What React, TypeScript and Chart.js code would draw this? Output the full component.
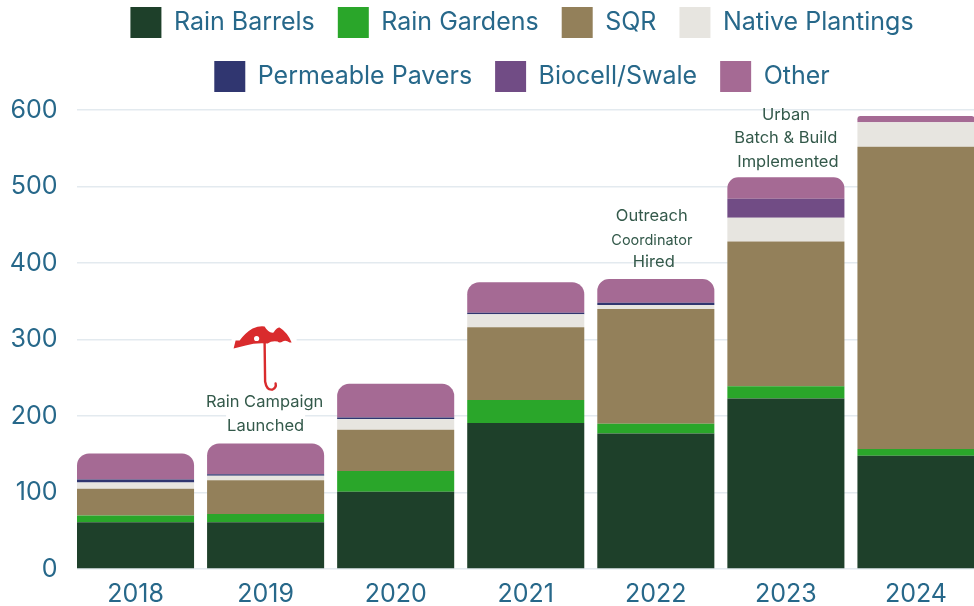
import React, { useEffect, useRef } from "react";
import { Chart, registerables } from "chart.js";

Chart.register(...registerables);

const years = ["2018", "2019", "2020", "2021", "2022", "2023", "2024"];
const rainBarrels = [61, 61, 101, 191, 177, 223, 148];
const rainGardens = [9, 11, 27, 30, 13, 16, 9];
const sqr = [35, 44, 54, 95, 150, 189, 395];
const nativePlantings = [8, 6, 14, 17, 5, 31, 32];
const permeablePavers = [4, 2, 2, 2, 3, 0, 0];
const biocellSwale = [0, 0, 0, 0, 0, 25, 0];
const other = [34, 40, 44, 40, 31, 28, 8];

const notes = [
  { year: "2019", value: 218.5, text: "Rain Campaign", size: 16.5, dx: -1, knock: true },
  { year: "2019", value: 187, text: "Launched", size: 16.5, dx: 0, knock: true },
  { year: "2022", value: 461, text: "Outreach", size: 16.5, dx: -4, knock: false },
  { year: "2022", value: 429, text: "Coordinator", size: 14.5, dx: -4, knock: false },
  { year: "2022", value: 401, text: "Hired", size: 16.5, dx: -2, knock: false },
  { year: "2023", value: 594, text: "Urban", size: 16.5, dx: 0, knock: false },
  { year: "2023", value: 563, text: "Batch & Build", size: 16.5, dx: 0, knock: false },
  { year: "2023", value: 532, text: "Implemented", size: 16.5, dx: 2, knock: false },
];

const TICK = "#27688a";
const NOTE = "#33594a";

const overlay = {
  id: "overlay",
  beforeLayout(chart: any) {
    // keep extra room between the legend and the plot
    const l = chart.legend;
    if (l && !l.__roomy) {
      const fit = l.fit.bind(l);
      l.fit = () => { fit(); l.height += 8; };
      l.__roomy = true;
    }
  },
  beforeDatasetsDraw(chart: any) {
    // gridlines begin at the first bar's left edge
    const { ctx, chartArea } = chart;
    const bar = chart.getDatasetMeta(0).data[0];
    ctx.save();
    ctx.fillStyle = "#fff";
    ctx.fillRect(chartArea.left - 2, chartArea.top - 3, bar.x - bar.width / 2 - chartArea.left + 2, chartArea.height + 6);
    ctx.restore();
  },
  afterDatasetsDraw(chart: any) {
    const { ctx, scales } = chart;
    const x = scales.x;
    const y = scales.y;
    ctx.save();
    ctx.letterSpacing = "0px";
    ctx.textAlign = "center";
    ctx.textBaseline = "middle";
    for (const n of notes) {
      const px = x.getPixelForValue(years.indexOf(n.year)) + n.dx;
      const py = y.getPixelForValue(n.value);
      ctx.font = `${n.size}px Inter, sans-serif`;
      if (n.knock) {
        const w = ctx.measureText(n.text).width;
        ctx.fillStyle = "#fff";
        ctx.fillRect(px - w / 2 - 1, py - 11, w + 2, 22);
      }
      ctx.fillStyle = NOTE;
      ctx.fillText(n.text, px, py);
    }
    // umbrella above the 2019 note, anchored on its category and the 300 gridline
    const ux = x.getPixelForValue(1) - 2;
    const uy = y.getPixelForValue(300);
    ctx.translate(ux, uy);
    ctx.fillStyle = "#fff";
    ctx.fillRect(-32, -8, 65, 16);
    ctx.fillStyle = "#d92b2d";
    ctx.strokeStyle = "#d92b2d";
    ctx.beginPath();
    ctx.moveTo(-30, 9);
    ctx.lineTo(-28, 1);
    ctx.lineTo(-24, 1);
    ctx.quadraticCurveTo(-18, -7, -11, -11);
    ctx.quadraticCurveTo(-4, -14, 1, -13);
    ctx.quadraticCurveTo(5, -6, 10, -7);
    ctx.quadraticCurveTo(13, -12, 16, -12);
    ctx.quadraticCurveTo(24, -7, 28, 3);
    ctx.lineTo(26, 3);
    ctx.quadraticCurveTo(22, 0, 19, 2);
    ctx.quadraticCurveTo(16, 4, 14, 2);
    ctx.quadraticCurveTo(8, 1, 4, 4);
    ctx.quadraticCurveTo(-8, 3, -18, 6);
    ctx.closePath();
    ctx.fill();
    ctx.fillStyle = "#fff";
    ctx.beginPath();
    ctx.arc(-7, -1, 2.6, 0, Math.PI * 2);
    ctx.fill();
    ctx.lineWidth = 2.4;
    ctx.lineCap = "round";
    ctx.beginPath();
    ctx.moveTo(1, 3);
    ctx.lineTo(1.5, 42);
    ctx.quadraticCurveTo(3, 51, 9, 50);
    ctx.quadraticCurveTo(13, 48, 12, 44);
    ctx.stroke();
    ctx.restore();
  },
};

export default function App() {
  const ref = useRef<HTMLCanvasElement>(null);
  useEffect(() => {
    const canvas = ref.current!;
    const g: any = canvas.getContext("2d");
    g.letterSpacing = "0.8px";
    const bar = (label: string, data: number[], color: string, extra: object = {}) => ({
      label,
      data,
      backgroundColor: color,
      borderWidth: 0,
      borderColor: color,
      ...extra,
    });
    const chart = new Chart(canvas, {
      type: "bar",
      data: {
        labels: years,
        datasets: [
          bar("Rain Barrels", rainBarrels, "#1e402a"),
          bar("Rain Gardens", rainGardens, "#2aa62a"),
          bar("SQR", sqr, "#93805a"),
          bar("Native Plantings", nativePlantings, "#e7e5e0"),
          bar("Permeable Pavers", permeablePavers, "#303670"),
          bar("Biocell/Swale", biocellSwale, "#714c85"),
          bar("Other", other, "#a56a94", {
            borderRadius: { topLeft: 12, topRight: 12, bottomLeft: 0, bottomRight: 0 },
            borderSkipped: false,
          }),
        ],
      },
      options: {
        animation: false,
        responsive: false,
        devicePixelRatio: 1,
        layout: { padding: 0 },
        plugins: {
          tooltip: { enabled: false },
          legend: {
            position: "top",
            labels: {
              color: TICK,
              font: { family: "Inter, sans-serif", size: 25 },
              boxWidth: 31,
              boxHeight: 31,
              padding: 23,
            },
          },
        },
        scales: {
          x: {
            stacked: true,
            grid: { display: false },
            border: { display: false },
            ticks: { color: TICK, font: { family: "Inter, sans-serif", size: 25 }, padding: 2 },
            afterFit: (s: any) => { s.height = 37; },
          },
          y: {
            stacked: true,
            min: 0,
            max: 600,
            grid: { color: "#e3eaef", lineWidth: 1.5, drawTicks: false },
            border: { display: false },
            ticks: { color: TICK, font: { family: "Inter, sans-serif", size: 25 }, stepSize: 100, padding: 13 },
            afterFit: (s: any) => { s.width = 70.5; },
          },
          // an empty axis past the page edge: it narrows the plot but leaves the legend centred
          pad: {
            type: "linear",
            position: "right",
            grid: { display: false },
            border: { display: false },
            ticks: { display: false },
            afterFit: (s: any) => { s.width = 63; },
          },
        } as any,
        datasets: { bar: { categoryPercentage: 0.9, barPercentage: 1 } },
      } as any,
      plugins: [overlay],
    });
    return () => chart.destroy();
  }, []);
  return (
    <div style={{ position: "fixed", left: 0, top: 0, width: 974, height: 606, overflow: "hidden", background: "#fff" }}>
      <canvas ref={ref} width={1044} height={622} style={{ display: "block", width: 1044, height: 622, marginTop: -16 }} />
    </div>
  );
}
